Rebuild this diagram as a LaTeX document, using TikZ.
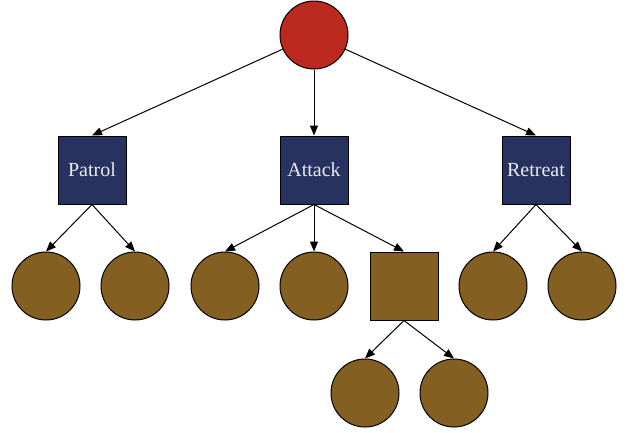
\documentclass[tikz,border=0pt]{standalone}
\usepackage{fontspec}
\setmainfont{Liberation Serif}
\usetikzlibrary{arrows.meta}

\definecolor{rootred}{RGB}{187,41,31}
\definecolor{actionblue}{RGB}{39,50,96}
\definecolor{leafbrown}{RGB}{132,95,34}

\begin{document}
\begin{tikzpicture}[x=1pt, y=-1pt, line width=1pt,
state/.style={circle, draw=black, minimum size=68pt, inner sep=0pt},
action/.style={rectangle, draw=black, fill=actionblue, minimum size=68pt, inner sep=0pt, text=white!92!black, font=\fontsize{20}{24}\selectfont},
edge/.style={-{Triangle[length=10pt, width=8pt]}}]
\tikzstyle{leaf}=[state, fill=leafbrown]
\useasboundingbox (0,0) rectangle (628,432);

%Root
\node[state, fill=rootred] (root) at (314,35) {};
%Actions
\node[action] (patrol) at (92,170) {Patrol};
\node[action] (attack) at (314,170) {Attack};
\node[action] (retreat) at (536,170) {Retreat};
%Leaves
\node[leaf] (p1) at (46,286) {};
\node[leaf] (p2) at (135,286) {};
\node[leaf] (a1) at (225,286) {};
\node[leaf] (a2) at (314,286) {};
\node[leaf, rectangle] (a3) at (404,286) {};
\node[leaf] (r1) at (493,286) {};
\node[leaf] (r2) at (582,286) {};
\node[leaf] (a31) at (365,393) {};
\node[leaf] (a32) at (454,393) {};

\draw[edge] (root) -- (patrol.north);
\draw[edge] (root) -- (attack.north);
\draw[edge] (root) -- (retreat.north);
\draw[edge] (patrol.south) -- (p1.north);
\draw[edge] (patrol.south) -- (p2.north);
\draw[edge] (attack.south) -- (a1.north);
\draw[edge] (attack.south) -- (a2.north);
\draw[edge] (attack.south) -- (a3.north);
\draw[edge] (retreat.south) -- (r1.north);
\draw[edge] (retreat.south) -- (r2.north);
\draw[edge] (a3.south) -- (a31.north);
\draw[edge] (a3.south) -- (a32.north);
\end{tikzpicture}
\end{document}
